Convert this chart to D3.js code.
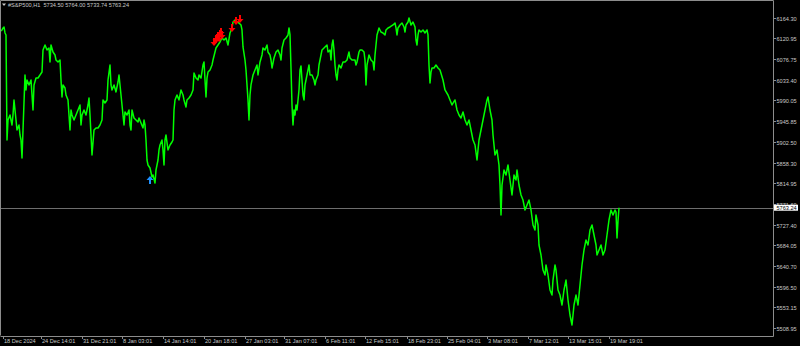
<!DOCTYPE html>
<html>
<head>
<meta charset="utf-8">
<script src="https://cdn.jsdelivr.net/npm/d3@7"></script>
<style>
  html, body { margin: 0; padding: 0; background: #000; }
  svg { display: block; }
  text { font-family: "Liberation Sans", Arial, sans-serif; }
</style>
</head>
<body>
<div id="chart"></div>
<script>
// symbol info (header line)
const symbolName = "#S&P500,H1";
const lastOHLC = ["5734.50", "5764.00", "5733.74", "5763.24"];
const lastPrice = 5763.24;

// bar index (H1 slot) and close price
const bars = [0,1,2,3,4,5,6,7,9,11,12,13,14,16,18,19,20,21,22,24,25,26,28,30,31,32,33,35,37,39,41,42,44,46,48,49,50,52,54,55,57,59,60,61,62,64,65,67,69,70,71,73,75,77,79,80,81,83,85,87,88,89,91,93,95,97,99,101,102,104,106,107,109,110,111,113,115,117,118,119,120,121,122,123,124,126,128,129,130,131,133,135,137,138,140,142,143,144,145,146,147,149,151,152,154,155,157,158,159,161,162,163,164,165,167,169,171,172,173,174,176,178,180,182,183,185,186,188,190,192,193,195,197,198,200,202,203,204,205,206,207,209,211,212,214,215,217,219,221,223,225,227,229,231,232,234,236,238,240,241,242,244,245,246,247,248,249,250,252,254,256,257,259,261,262,264,266,267,269,270,271,273,275,277,279,280,281,283,285,287,288,289,290,291,292,293,294,295,296,297,298,299,300,301,302,303,304,305,307,308,309,311,313,314,315,317,318,320,321,323,326,327,329,330,331,332,333,334,335,336,337,338,340,342,344,346,348,349,351,354,355,356,358,359,361,363,364,365,366,368,370,372,373,374,375,376,378,380,382,384,385,387,389,392,394,395,396,397,399,401,403,404,405,407,408,410,412,414,415,416,417,418,420,422,424,426,427,428,429,430,431,433,435,437,439,442,444,447,449,451,454,456,458,460,462,464,466,468,470,472,474,476,478,480,482,484,486,487,489,491,492,494,496,498,499,500,501,503,505,507,509,511,513,515,516,518,520,522,524,526,528,530,532,534,535,537,538,540,542,544,545,547,549,551,552,554,555,557,559,561,563,565,567,569,571,573,575,577,579,581,583,585,587,589,591,593,595,596,598,600,602,604,606,608,610,612,614,615,616,617,618];
const closes = [6136.8,6139.0,6143.2,6145.3,6132.6,6128.4,5906.4,5948.7,5959.2,5938.1,5959.2,5991.0,5969.8,5927.5,5938.1,5917.0,5906.4,5868.3,5927.5,6043.8,6012.1,6033.2,6022.7,6033.2,6001.5,5969.8,6022.7,6037.4,6037.4,6043.8,6050.1,6096.7,6107.2,6096.7,6100.9,6071.3,6107.2,6092.4,6086.1,6075.5,6071.3,6075.5,6033.2,5997.3,6022.7,6016.3,6001.5,5991.0,5927.5,5969.8,5959.2,5948.7,5959.2,5969.8,5980.4,5938.1,5959.2,5969.8,5959.2,5980.4,5995.2,5959.2,5874.7,5927.5,5931.8,5931.8,5938.1,5948.7,5991.0,5984.6,5991.0,6033.2,6064.9,6022.7,6012.1,6022.7,6007.9,6029.0,6043.8,6022.7,6001.5,5980.4,5959.2,5938.1,5965.6,5959.2,5969.8,5938.1,5927.5,5969.8,5952.9,5948.7,5944.4,5952.9,5942.3,5931.8,5948.7,5938.1,5906.4,5864.1,5853.5,5847.2,5828.2,5832.4,5815.5,5843.0,5864.1,5885.3,5895.8,5906.4,5885.3,5853.5,5906.4,5917.0,5885.3,5895.8,5902.2,5906.4,5969.8,5991.0,6001.5,5991.0,6012.1,6001.5,5991.0,5976.2,5991.0,5995.2,6001.5,6012.1,6048.0,6037.4,6033.2,6043.8,6037.4,6064.9,6071.3,6033.2,5997.3,6037.4,6050.1,6054.4,6064.9,6075.5,6092.4,6100.9,6107.2,6113.6,6122.0,6117.8,6122.0,6107.2,6132.6,6143.2,6155.8,6160.1,6155.8,6153.7,6149.5,6139.0,6103.0,6075.5,6054.4,6022.7,5991.0,5948.7,6001.5,6022.7,6043.8,6054.4,6064.9,6043.8,6071.3,6086.1,6100.9,6096.7,6107.2,6092.4,6086.1,6075.5,6058.6,6079.7,6092.4,6096.7,6086.1,6075.5,6100.9,6117.8,6122.0,6128.4,6143.2,6128.4,6058.6,5980.4,5938.1,5969.8,5959.2,5980.4,5969.8,5991.0,6012.1,6054.4,6062.8,6033.2,6001.5,5991.0,6022.7,6033.2,6054.4,6064.9,6043.8,6043.8,6033.2,6022.7,6033.2,6043.8,6064.9,6086.1,6096.7,6100.9,6107.2,6092.4,6096.7,6075.5,6107.2,6117.8,6096.7,6064.9,6043.8,6033.2,6054.4,6064.9,6058.6,6071.3,6071.3,6075.5,6092.4,6079.7,6075.5,6075.5,6064.9,6071.3,6092.4,6096.7,6096.7,6092.4,6075.5,6022.7,6064.9,6086.1,6075.5,6071.3,6054.4,6086.1,6107.2,6128.4,6143.2,6134.7,6132.6,6128.4,6139.0,6143.2,6145.3,6149.5,6153.7,6143.2,6128.4,6143.2,6149.5,6153.7,6145.3,6134.7,6149.5,6155.8,6164.3,6149.5,6155.8,6145.3,6117.8,6107.2,6128.4,6139.0,6134.7,6139.0,6132.6,6139.0,6128.4,6064.9,6026.9,6050.1,6058.6,6058.6,6064.9,6058.6,6054.4,6033.2,6012.1,6001.5,5991.0,5980.4,5991.0,5969.8,5959.2,5952.9,5965.6,5948.7,5938.1,5948.7,5927.5,5906.4,5895.8,5864.1,5906.4,5927.5,5948.7,5969.8,5991.0,5997.3,5969.8,5948.7,5917.0,5874.7,5885.3,5853.5,5811.3,5747.8,5811.3,5843.0,5832.4,5853.5,5821.8,5790.1,5832.4,5821.8,5843.0,5811.3,5790.1,5779.5,5758.4,5769.0,5779.5,5758.4,5726.7,5716.1,5747.8,5726.7,5684.4,5663.3,5631.6,5621.0,5642.2,5621.0,5589.3,5578.7,5610.4,5642.2,5631.6,5589.3,5578.7,5557.6,5589.3,5610.4,5568.2,5536.5,5515.3,5557.6,5578.7,5557.6,5599.9,5642.2,5673.9,5695.0,5684.4,5716.1,5726.7,5705.6,5684.4,5663.3,5673.9,5684.4,5663.3,5673.9,5705.6,5737.3,5758.4,5747.8,5758.4,5754.2,5699.2,5735.2,5763.24];

// signal arrows
const buyBars = [149];
const buyPrices = [5821.8];
const sellBars = [213, 215, 216, 217, 218, 219, 220, 221, 231, 235, 239];
const sellPrices = [6113.6, 6119.9, 6122.0, 6126.2, 6122.0, 6130.5, 6134.7, 6128.4, 6143.2, 6158.0, 6162.2];

// price scale labels (right side)
const priceTicks = ["6164.30","6120.95","6076.75","6033.40","5990.05","5945.85","5902.50","5858.30","5814.95","5771.60","5727.40","5684.05","5640.70","5596.50","5553.15","5508.95"];

// time scale labels (bottom)
const timeBars = [2, 40, 81, 121, 162, 203, 244, 283, 324, 364, 406, 446, 486, 527, 567, 608];
const timeLabels = ["18 Dec 2024","24 Dec 14:01","31 Dec 21:01","8 Jan 03:01","14 Jan 14:01","20 Jan 18:01","27 Jan 03:01","31 Jan 07:01","6 Feb 11:01","12 Feb 15:01","18 Feb 23:01","25 Feb 04:01","3 Mar 08:01","7 Mar 12:01","13 Mar 15:01","19 Mar 19:01"];

const W = 800, H = 346;
const plot = { left: 1, top: 1, right: 773, bottom: 336 };

const svg = d3.select("#chart").append("svg")
  .attr("width", W)
  .attr("height", H)
  .style("background", "#000");

const x = d3.scaleLinear().domain([0, 772]).range([plot.left, plot.right]);
const y = d3.scaleLinear().domain([5494.2, 6200.2]).range([plot.bottom - 1, plot.top]);

const fg = "#c8c8c8";
const frame = "#8c8c8c";

// current price line
svg.append("line")
  .attr("x1", plot.left).attr("x2", plot.right)
  .attr("y1", Math.round(y(lastPrice)) + 0.5).attr("y2", Math.round(y(lastPrice)) + 0.5)
  .attr("stroke", "#6e6e6e")
  .attr("stroke-width", 1);

// close price line
const line = d3.line()
  .x((d, i) => x(bars[i]))
  .y(d => y(d));

svg.append("path")
  .datum(closes)
  .attr("d", line)
  .attr("fill", "none")
  .attr("stroke", "#00ff00")
  .attr("stroke-width", 1.5)
  .attr("stroke-linejoin", "round");

// arrows
const downArrow = "M-1,-4 L1,-4 L1,0 L3.5,0 L0,4 L-3.5,0 L-1,0 Z";
const upArrow = "M-1,4 L1,4 L1,0 L3.5,0 L0,-4 L-3.5,0 L-1,0 Z";

svg.selectAll(".sell")
  .data(sellPrices)
  .enter().append("path")
  .attr("class", "sell")
  .attr("d", downArrow)
  .attr("transform", (d, i) => `translate(${x(sellBars[i])},${y(d)})`)
  .attr("fill", "#ff0000");

svg.selectAll(".buy")
  .data(buyPrices)
  .enter().append("path")
  .attr("class", "buy")
  .attr("d", upArrow)
  .attr("transform", (d, i) => `translate(${x(buyBars[i])},${y(d)})`)
  .attr("fill", "#1e90ff");

// frame
svg.append("path")
  .attr("d", `M${plot.left - 0.5},${plot.bottom - 0.5} L${plot.left - 0.5},${plot.top - 0.5} L${plot.right + 0.5},${plot.top - 0.5} L${plot.right + 0.5},${plot.bottom + 0.5} L${plot.left - 0.5},${plot.bottom + 0.5}`)
  .attr("fill", "none")
  .attr("stroke", frame)
  .attr("stroke-width", 1);

// right price axis
const pAxis = svg.append("g");
priceTicks.forEach(t => {
  const py = Math.round(y(+t)) + 0.5;
  pAxis.append("line")
    .attr("x1", plot.right + 0.5).attr("x2", plot.right + 3)
    .attr("y1", py).attr("y2", py)
    .attr("stroke", frame);
  pAxis.append("text")
    .attr("x", plot.right + 3.5)
    .attr("y", py + 2)
    .attr("fill", fg)
    .attr("font-size", "5.6px")
    .text(t);
});

// last price tag (covers the nearby scale label like the terminal does)
const ly = y(lastPrice);
svg.append("rect")
  .attr("x", plot.right + 1).attr("y", ly - 3)
  .attr("width", 24).attr("height", 6)
  .attr("fill", "#ffffff");
svg.append("text")
  .attr("x", plot.right + 3.5)
  .attr("y", ly + 2)
  .attr("fill", "#000")
  .attr("font-size", "5.6px")
  .text(lastPrice.toFixed(2));

// bottom time axis
const tAxis = svg.append("g");
timeBars.forEach((b, i) => {
  const tx = Math.round(x(b)) + 0.5;
  tAxis.append("line")
    .attr("x1", tx).attr("x2", tx)
    .attr("y1", plot.bottom + 0.5).attr("y2", plot.bottom + 3)
    .attr("stroke", frame);
  tAxis.append("text")
    .attr("x", tx + 0.5)
    .attr("y", plot.bottom + 6.5)
    .attr("fill", fg)
    .attr("font-size", "5.6px")
    .text(timeLabels[i]);
});

// header
svg.append("path")
  .attr("d", "M2,3.5 L6,3.5 L4,6 Z")
  .attr("fill", fg);
svg.append("text")
  .attr("x", 8)
  .attr("y", 7)
  .attr("fill", fg)
  .attr("font-size", "5.6px")
  .attr("xml:space", "preserve")
  .text(symbolName + "  " + lastOHLC.join(" "));
</script>
</body>
</html>
